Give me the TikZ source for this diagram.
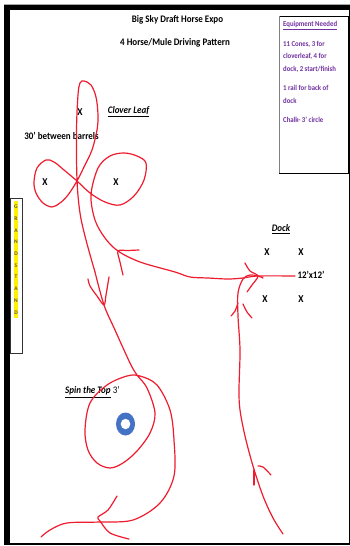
\documentclass[tikz,border=0pt]{standalone}
\usepackage{fontspec}
\setmainfont{Carlito}
\definecolor{inkred}{HTML}{EE1C2E}
\definecolor{eqpurple}{HTML}{7030A0}
\definecolor{ringblue}{HTML}{4472C4}
\newcommand{\nar}[1]{\scalebox{0.9}[1]{#1}}
\tikzset{
  stroke/.style={draw=inkred,line width=1.2pt,line cap=round,line join=round},
  lbl/.style={font=\bfseries\fontsize{10}{11}\selectfont,inner sep=0pt,text=black},
  lblit/.style={font=\bfseries\itshape\fontsize{10}{11}\selectfont,inner sep=0pt,text=black},
  xmark/.style={font=\bfseries\fontsize{10.5}{11}\selectfont,inner sep=0pt},
  eq/.style={font=\bfseries\fontsize{7.5}{9}\selectfont,inner sep=0pt,text=eqpurple,anchor=west},
  gs/.style={font=\bfseries\fontsize{5.5}{6}\selectfont,fill=yellow,inner xsep=0.6pt,inner ysep=0pt,minimum height=11.7pt,text=black!75!yellow}
}
\begin{document}
\begin{tikzpicture}[x=1pt,y=-1pt]
\useasboundingbox (0,0) rectangle (350,546);
\fill[white] (0,0) rectangle (350,546);
% page frame
\draw[gray!70,line width=0.8pt] (4,4.5) -- (349.5,4.5);
\fill[black] (4,5) rectangle (350,10);
\fill[black] (4,5) rectangle (10,544);
\fill[black] (4,542.5) rectangle (350,544.5);
\fill[black] (348.5,5) rectangle (349.6,544);
% titles
\node[lbl] (title1) at (177.5,19.5) {\nar{Big Sky Draft Horse Expo}};
\node[lbl] (title2) at (175,42.5) {\nar{4 Horse/Mule Driving Pattern}};
% equipment
\node[draw=black,line width=0.7pt,minimum width=69pt,minimum height=157pt,inner sep=0pt,anchor=north west] (eqbox) at (279,15.5) {};
\draw[gray,line width=0.8pt] (eqbox.north west) -- (eqbox.south west);
\node[eq] (eq1) at (283,25.5) {\nar{\underline{Equipment Needed}}};
\node[eq] (eq2) at (283,44) {\nar{11 Cones, 3 for}};
\node[eq] (eq3) at (283,56.5) {\nar{cloverleaf, 4 for}};
\node[eq] (eq4) at (283,69) {\nar{dock, 2 start/finish}};
\node[eq] (eq5) at (283,88) {\nar{1 rail for back of}};
\node[eq] (eq6) at (283,101) {\nar{dock}};
\node[eq] (eq7) at (283,120) {\nar{Chalk- 3’ circle}};
% grandstand
\node[draw=black!80,fill=white,line width=0.7pt,minimum width=11.5pt,minimum height=154.5pt,inner sep=0pt,anchor=north west] (gsbox) at (10,198) {};
\foreach \c [count=\i from 0] in {G,R,A,N,D,S,T,A,N,D}
  \node[gs] (gs\i) at (16,207+11.7*\i) {\c};
% labels
\node[xmark] (x1) at (80,112) {\nar{X}};
\node[xmark] (x2) at (45,182) {\nar{X}};
\node[xmark] (x3) at (116,182) {\nar{X}};
\node[xmark] (x4) at (267,252) {\nar{X}};
\node[xmark] (x5) at (301,252) {\nar{X}};
\node[xmark] (x6) at (265,299) {\nar{X}};
\node[xmark] (x7) at (301,299) {\nar{X}};
\node[lblit] (clover) at (128.5,112) {\nar{\underline{Clover Leaf}}};
\node[lbl] (between) at (61.5,136) {\nar{30’ between barrels}};
\node[lblit] (dock) at (281,229) {\nar{\underline{Dock}}};
\node[lbl] (size) at (311,274.5) {\nar{12’x12’}};
\node[lbl,anchor=west,font=\fontsize{10}{11}\selectfont] (spin) at (65,392) {\nar{{\bfseries\itshape\underline{Spin the Top}} 3’}};
% ring
\fill[ringblue] (125.5,424) ellipse (9.5 and 11.5);
\fill[white] (125.5,424) ellipse (4.8 and 5.2);
% clover leaf stroke and run to the dock
\draw[stroke] plot[smooth,tension=0.55] coordinates {(95,272) (86,240) (80,213) (77,180) (76.5,130) (78,95) (80,83) (84,81) (91,85) (96,97) (98,115) (97,130) (92,150) (84,167) (77,181) (68,195) (60,203) (52,207) (43,203) (36,193) (34,182) (37,168) (46,160) (54,162) (64,170) (77,181) (90,193) (105,202) (120,205) (134,196) (144,180) (146,163) (137,156) (124,153) (110,156) (98,168) (91,195) (95,220) (105,238) (118,251) (140,262) (175,272) (190,277) (208,278) (228,279) (243,278) (258,276) (295,276)};
\draw[stroke] plot[smooth,tension=0.5] coordinates {(139,250) (128,250.5) (118,251) (120,262) (123,275)};
% stem down to spin the top
\draw[stroke] plot[smooth,tension=0.55] coordinates {(95,272) (104,305) (115,330) (130,363) (137,375) (147,388) (155,413) (150,433) (137,451) (123,463) (110,468) (97,463) (88,450) (85,430) (90,403) (107,385) (127,376) (140,376) (157,385) (170,410) (174,440) (174,476) (160,503) (133,520) (100,522) (67,523) (50,530) (41,537)};
\draw[stroke] plot[smooth,tension=0.5] coordinates {(88,279) (90,286) (97,296) (104,305) (106,295) (109,277)};
\draw[stroke] plot[smooth,tension=0.5] coordinates {(117,496) (108,510) (98,517) (100,521) (110,533) (129,539)};
% dock approach
\draw[stroke] plot[smooth,tension=0.55] coordinates {(283,534) (273,518) (263,496) (253,466) (245,436) (240,410) (239,390) (240,350) (238,316) (238,293) (243,279) (250,275) (258,276) (263,278)};
\draw[stroke] plot[smooth,tension=0.5] coordinates {(231,316) (235,311) (238,303)};
\draw[stroke] plot[smooth,tension=0.5] coordinates {(243,304) (247,312) (252,318)};
\draw[stroke] plot[smooth,tension=0.5] coordinates {(245,263) (250,271) (258,276) (252,285) (247,292)};
\draw[stroke] plot[smooth,tension=0.5] coordinates {(254,485) (254,470)};
\draw[stroke] plot[smooth,tension=0.5] coordinates {(258,466) (263,467) (271,475)};
\end{tikzpicture}
\end{document}
